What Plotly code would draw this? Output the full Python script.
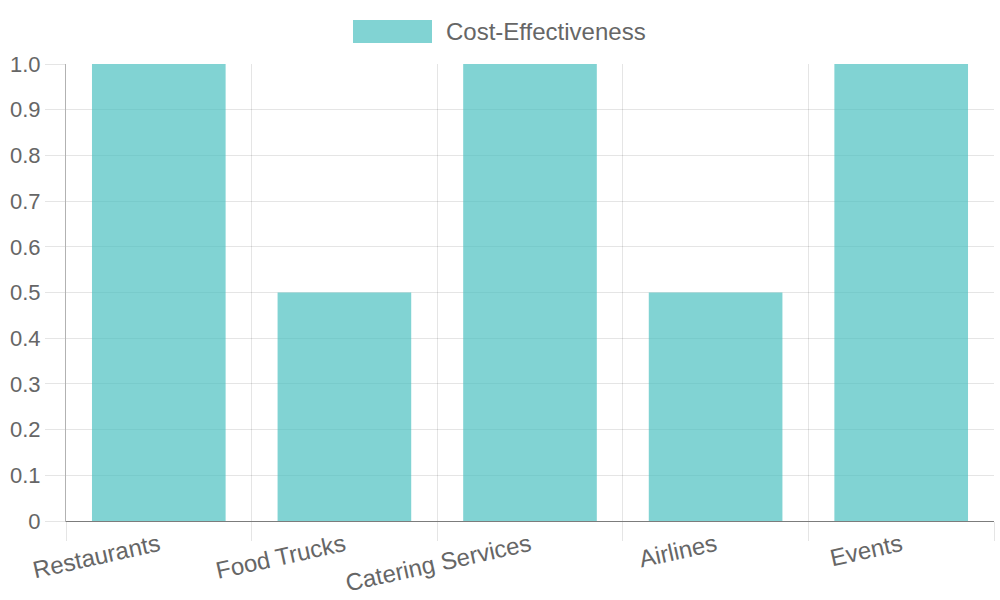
import plotly.graph_objects as go

categories = ["Restaurants", "Food Trucks", "Catering Services", "Airlines", "Events"]
values = [1.0, 0.5, 1.0, 0.5, 1.0]
series_name = "Cost-Effectiveness"
y_ticks = [0, 0.1, 0.2, 0.3, 0.4, 0.5, 0.6, 0.7, 0.8, 0.9, 1.0]
y_tick_labels = ["0", "0.1", "0.2", "0.3", "0.4", "0.5", "0.6", "0.7", "0.8", "0.9", "1.0"]

bar_color = "rgba(75,192,192,0.7)"
grid = "rgba(0,0,0,0.1)"
axis_col = "rgba(0,0,0,0.3)"
font = "Liberation Sans, Arial, sans-serif"

fig = go.Figure()
fig.add_trace(go.Bar(x=categories, y=values, name=series_name,
                     marker=dict(color=bar_color, line=dict(width=0)),
                     showlegend=False))

fig.update_layout(
    width=1000, height=600,
    margin=dict(l=66, r=6, t=64, b=79),
    paper_bgcolor="white", plot_bgcolor="white",
    bargap=0.28,
    font=dict(family=font, color="#666", size=22),
    xaxis=dict(type="category", tickson="boundaries", showgrid=True, gridcolor=grid,
               gridwidth=1, ticks="outside", ticklen=19, tickcolor=grid,
               tickangle=-12.5, showline=True, linecolor=axis_col, linewidth=1,
               tickfont=dict(size=24, color="#666"), automargin=False,
               range=[-0.5, 4.5]),
    yaxis=dict(range=[0, 1.0], tickvals=y_ticks, ticktext=y_tick_labels,
               showgrid=True, gridcolor=grid, ticks="outside", ticklen=20,
               tickcolor=grid, showline=True, linecolor=axis_col, linewidth=1,
               zeroline=True, zerolinecolor=axis_col, zerolinewidth=1,
               tickfont=dict(size=22, color="#666"), automargin=False),
    shapes=[dict(type="rect", xref="paper", yref="paper",
                 x0=(353 - 66) / 928, x1=(432 - 66) / 928,
                 y0=(600 - 79 - 43) / 457, y1=(600 - 79 - 20) / 457,
                 fillcolor=bar_color, line=dict(width=0))],
    annotations=[dict(text=series_name, xref="paper", yref="paper",
                      x=(444 - 66) / 928, y=(600 - 79 - 32) / 457,
                      xanchor="left", yanchor="middle", showarrow=False,
                      font=dict(size=24, color="#666", family=font))],
)

fig.write_html("out.html")
